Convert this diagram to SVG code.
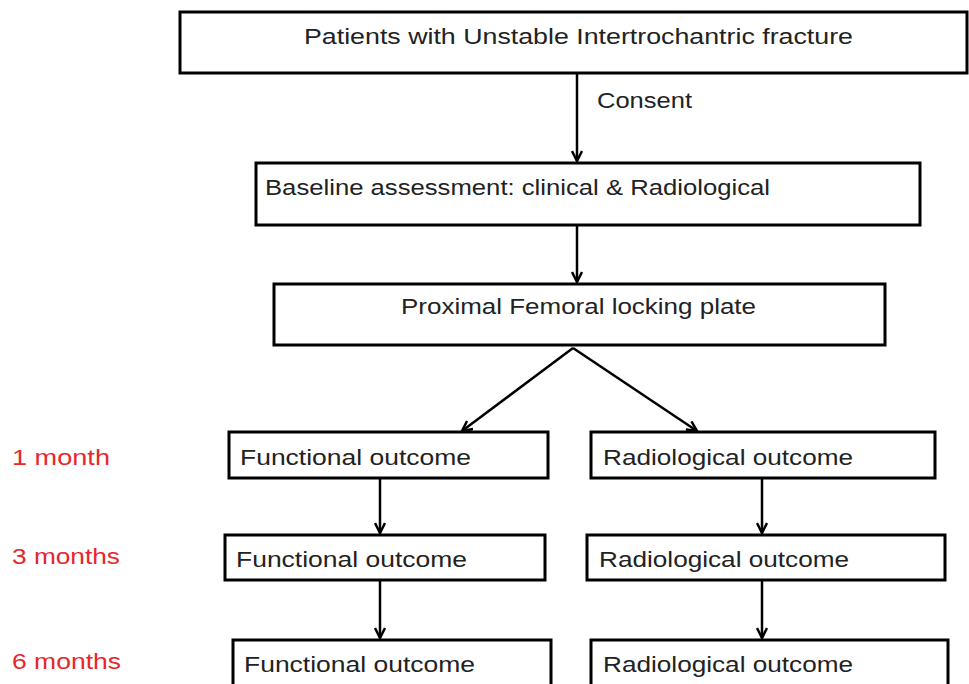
<svg xmlns="http://www.w3.org/2000/svg" width="969" height="684" viewBox="0 0 969 684">
<style>
.box{fill:#fff;stroke:#000;stroke-width:3}
.t{font-family:"Liberation Sans","Open Sans",sans-serif;font-size:22px;fill:#222}
.r{font-family:"Liberation Sans","Open Sans",sans-serif;font-size:22px;fill:#e8262d}
.c{stroke:#000;stroke-width:2.5;fill:none;marker-end:url(#ah)}
</style>
<defs>
<marker id="ah" viewBox="0 0 12 12" refX="11" refY="6" markerWidth="12" markerHeight="12" markerUnits="userSpaceOnUse" orient="auto">
<path d="M1,1 L11,6 L1,11" fill="none" stroke="#000" stroke-width="2.5"/>
</marker>
</defs>
<rect width="969" height="684" fill="#fff"/>
<g id="connectors">
<line class="c" x1="577" y1="73" x2="577" y2="161"/>
<line class="c" x1="577" y1="225" x2="577" y2="282"/>
<line class="c" x1="573" y1="348" x2="462" y2="431"/>
<line class="c" x1="573" y1="348" x2="697" y2="431"/>
<line class="c" x1="380" y1="478" x2="380" y2="533"/>
<line class="c" x1="762" y1="478" x2="762" y2="533"/>
<line class="c" x1="380" y1="580" x2="380" y2="638"/>
<line class="c" x1="762" y1="580" x2="762" y2="638"/>
<text class="t" x="597" y="108" textLength="95" lengthAdjust="spacingAndGlyphs">Consent</text>
</g>
<g id="n1"><rect class="box" x="180" y="12" width="787" height="61"/><text class="t" x="304" y="44" textLength="549" lengthAdjust="spacingAndGlyphs">Patients with Unstable Intertrochantric fracture</text></g>
<g id="n2"><rect class="box" x="256" y="163" width="664" height="62"/><text class="t" x="265" y="195" textLength="505" lengthAdjust="spacingAndGlyphs">Baseline assessment: clinical &amp; Radiological</text></g>
<g id="n3"><rect class="box" x="274" y="284" width="611" height="61"/><text class="t" x="401" y="314" textLength="355" lengthAdjust="spacingAndGlyphs">Proximal Femoral locking plate</text></g>
<g id="f1"><rect class="box" x="229" y="432" width="319" height="46"/><text class="t" x="240" y="465" textLength="231" lengthAdjust="spacingAndGlyphs">Functional outcome</text></g>
<g id="r1"><rect class="box" x="591" y="432" width="344" height="46"/><text class="t" x="603" y="465" textLength="250" lengthAdjust="spacingAndGlyphs">Radiological outcome</text></g>
<g id="f3"><rect class="box" x="225" y="535" width="320" height="45"/><text class="t" x="236" y="567" textLength="231" lengthAdjust="spacingAndGlyphs">Functional outcome</text></g>
<g id="r3"><rect class="box" x="587" y="535" width="358" height="45"/><text class="t" x="599" y="567" textLength="250" lengthAdjust="spacingAndGlyphs">Radiological outcome</text></g>
<g id="f6"><rect class="box" x="233" y="640" width="318" height="60"/><text class="t" x="244" y="672" textLength="231" lengthAdjust="spacingAndGlyphs">Functional outcome</text></g>
<g id="r6"><rect class="box" x="591" y="640" width="357" height="60"/><text class="t" x="603" y="672" textLength="250" lengthAdjust="spacingAndGlyphs">Radiological outcome</text></g>
<g id="labels">
<text class="r" x="12" y="465" textLength="98" lengthAdjust="spacingAndGlyphs">1 month</text>
<text class="r" x="12" y="564" textLength="108" lengthAdjust="spacingAndGlyphs">3 months</text>
<text class="r" x="12" y="669" textLength="109" lengthAdjust="spacingAndGlyphs">6 months</text>
</g>
</svg>
